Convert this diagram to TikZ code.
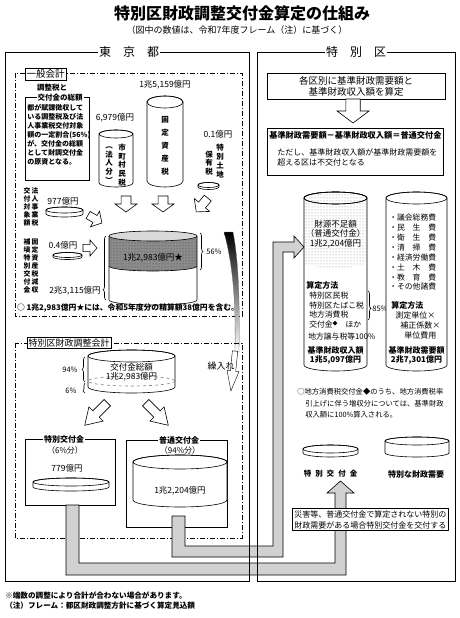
\documentclass[tikz,border=0pt]{standalone}
\usepackage{fontspec}
\setmainfont{Noto Sans CJK JP}
\usetikzlibrary{calc,patterns,decorations.pathreplacing}
\def\cyl[#1](#2,#3)(#4:#5:#6){\filldraw[#1] ({#2-#4},#3) -- ({#2-#4},{#3+#5}) arc (180:0:#4 and #6) -- ({#2+#4},#3) arc (360:180:#4 and #6) -- cycle; \draw (#2,#3) ellipse (#4 and #6);}
\def\openarrow[#1](#2)(#3:#4:#5){\draw[#1,shift={(#2)},rotate=#3] ({-0.45*#5},{-#4/2}) -- ({-0.45*#5},0) -- (-#5,0) -- (0,{#4/2}) -- (#5,0) -- ({0.45*#5},0) -- ({0.45*#5},{-#4/2}) -- cycle;}
\def\fsz#1{\fontsize{#1}{#1}\selectfont}
\tikzset{
	txt/.style={inner sep=0pt,font=\fontsize{8}{9.7}\selectfont},
	tagbox/.style={draw,fill=white,inner sep=1.5pt},
	lblgap/.style={fill=white,inner sep=1pt},
	pipe/.style={draw,fill=black!18},
	chainline/.style={dash pattern=on 5pt off 2pt on 1pt off 2pt},
}

\begin{document}
\begin{tikzpicture}[x=1pt,y=-1pt,line width=0.6pt]
		%%%%% START %%%%%
		\useasboundingbox (0,0) rectangle (460,618);
		
		\node[font=\bfseries\fsz{16}] (title) at (242,13) {特別区財政調整交付金算定の仕組み};
		\node[font=\fsz{9}] (sub) at (237,30) {（図中の数値は、令和7年度フレーム（注）に基づく）};
		
		% general account
		\draw[chainline] (15,73) rectangle (242,316);
		\node[tagbox,font=\fsz{9.5}] (ippan) at (45.5,74) {一般会計};
		
		\draw (25,97) rectangle (89,180);
		\node[txt,font=\bfseries\fsz{7.5}] (chosei) at (52,88) {調整税と};
		\node[lblgap,font=\bfseries\fsz{7.5}] (sogaku) at (60,98) {交付金の総額};
		\node[txt,font=\bfseries\fontsize{7}{9}\selectfont,anchor=north west,align=left] (gensi) at (27,104) {都が賦課徴収して\\いる調整税及び法\\人事業税交付対象\\額の一定割合(56\%)\\が、交付金の総額\\として財調交付金\\の原資となる。};
		
		\node[txt,font=\fsz{8.5}] (v15159) at (165,85) {1兆5,159億円};
		\cyl[fill=white](165,102)(18:79:6)
		\node[txt,align=center,font=\bfseries\fontsize{7.5}{13}\selectfont] (kotei) at (165,146) {固\\定\\資\\産\\税};
		
		\node[txt,font=\fsz{8.5}] (v6979) at (115,118) {6,979億円};
		\cyl[fill=white](116,134)(17:49:4)
		\node[txt,align=center,font=\bfseries\fontsize{7.5}{8.7}\selectfont] (shicho) at (122,165) {市\\町\\村\\民\\税};
		\node[txt,align=center,font=\bfseries\fontsize{7.5}{8.7}\selectfont] (hojin) at (109,165) {︵\\法\\人\\分\\︶};
		
		\node[txt,font=\fsz{8.5}] (v01) at (218,134) {0.1億円};
		\node[txt,align=center,font=\bfseries\fontsize{7.5}{9}\selectfont] (tokuchi) at (220,161) {特\\別\\土\\地};
		\node[txt,align=center,font=\bfseries\fontsize{7.5}{8.5}\selectfont] (hoyu) at (209,163) {保\\有\\税};
		\cyl[fill=white](208.5,185)(10.5:2:2.5)
		
		\node[txt,align=center,font=\bfseries\fontsize{6.8}{8}\selectfont] (hojinji) at (35,207) {法\\人\\事\\業\\税};
		\node[txt,align=center,font=\bfseries\fontsize{6.8}{8}\selectfont] (taisho) at (27,207) {交\\付\\対\\象\\額};
		\node[txt,font=\fsz{8.5}] (v977) at (63,201) {977億円};
		\cyl[fill=white](64.5,210)(18.5:4:3)
		
		\node[txt,align=center,font=\bfseries\fontsize{6.8}{8}\selectfont] (genshu) at (35,266) {固\\定\\資\\産\\税\\減\\収};
		\node[txt,align=center,font=\bfseries\fontsize{6.8}{8}\selectfont] (hoten) at (27,266) {補\\塡\\特\\別\\交\\付\\金};
		\node[txt,font=\fsz{8.5}] (v04) at (63,245) {0.4億円};
		\cyl[fill=white](67.5,255)(14.5:2:2.5)
		
		\openarrow[fill=white](126,204)(0:16:11)
		\openarrow[fill=white](163,204)(0:16:11)
		\openarrow[fill=white](202,205)(-40:18:10)
		\openarrow[fill=white](95,219)(60:16:9)
		\openarrow[fill=white](90,248)(90:14:8)
		
		\fill[white] (109,236) -- (109,300) arc (180:0:44 and 5) -- (197,236) arc (360:180:44 and 5) -- cycle;
		\fill[black!45] (109,236) -- (109,266) arc (180:0:44 and 5) -- (197,236) arc (360:180:44 and 5) -- cycle;
		\fill[pattern=dots,pattern color=black!75] (109,236) -- (109,266) arc (180:0:44 and 5) -- (197,236) arc (360:180:44 and 5) -- cycle;
		\draw (109,266) arc (180:0:44 and 5);
		\draw (109,236) -- (109,300) arc (180:0:44 and 5) -- (197,236);
		\draw[fill=black!15] (153,236) ellipse (44 and 5);
		\node[txt,font=\fsz{8.5}] (v12983) at (153,258) {1兆2,983億円★};
		\node[txt,font=\fsz{8.5}] (v23115) at (75,291) {2兆3,115億円};
		\draw[decorate,decoration={brace,amplitude=3pt,aspect=0.16}] (106,300) -- (106,236);
		\draw[decorate,decoration={brace,amplitude=3pt}] (200,233) -- (200,270);
		\node[txt,font=\fsz{7.5}] (p56) at (214,252) {56\%};
		
		\node[txt,font=\bfseries\fsz{7.8}] (seisan) at (128,308) {○ 1兆2,983億円★には、令和5年度分の精算額38億円を含む。};
		
		% transfer arrow
		\shadedraw[top color=black,bottom color=white,draw=black!60,line width=0.3pt] (224,232) .. controls (232,262) and (236,295) .. (235,352) -- (239,352) .. controls (240,295) and (238,258) .. (233,232) -- cycle;
		\openarrow[fill=white,line width=0.4pt](233,371)(-6:40:6)
		\node[txt,font=\fsz{9}] (kuri) at (221,366) {繰入れ};
		
		% adjustment account
		\draw[chainline] (15,343) rectangle (242,538);
		\node[tagbox,font=\fsz{9}] (tokkai) at (69,343) {特別区財政調整会計};
		\cyl[fill=white](131.5,356)(43.5:31:6)
		\draw[dashed,black!50] (131.5,381) ellipse (43.5 and 5);
		\node[txt,font=\fsz{8.5}] (kofusogaku) at (131.5,367) {交付金総額};
		\node[txt,font=\fsz{8.5}] (v12983b) at (131.5,377) {1兆2,983億円};
		\draw[decorate,decoration={brace,amplitude=3pt}] (85,382) -- (85,357);
		\draw[decorate,decoration={brace,amplitude=2pt,aspect=0.2}] (85,393) -- (85,383);
		\node[txt,font=\fsz{7.5}] (p94) at (70,370) {94\%};
		\node[txt,font=\fsz{7.5}] (p6) at (71,391) {6\%};
		
		\openarrow[fill=white](96,414)(-45:32:10)
		\openarrow[fill=white](157,414)(45:32:10)
		
		\draw (25,439) rectangle (115,505);
		\node[lblgap,font=\bfseries\fsz{8}] (tokkofu) at (64,439) {特別交付金};
		\node[txt,font=\fsz{8}] (p6bun) at (65,450) {（6\%分）};
		\node[txt,font=\fsz{8.5}] (v779) at (67,468) {779億円};
		\cyl[fill=white](71,482)(38:5:4)
		
		\draw (126,440) rectangle (227,527);
		\node[lblgap,font=\bfseries\fsz{8}] (futsu) at (179,440) {普通交付金};
		\node[txt,font=\fsz{8}] (p94bun) at (180,450) {（94\%分）};
		\cyl[fill=white](180,462)(47:38:7)
		\node[txt,font=\fsz{8.5}] (v12204) at (180,491) {1兆2,204億円};
		
		% special wards side
		\draw (267,73) rectangle (445,99);
		\node[txt,font=\fontsize{9.5}{11}\selectfont,align=center] (santei) at (356,86) {各区別に基準財政需要額と\\基準財政収入額を算定};
		\openarrow[fill=white](353,111)(0:24:16)
		
		\draw (267,128) rectangle (443,175);
		\node[txt,font=\bfseries\fsz{8.2},anchor=west] (shiki) at (269,135) {基準財政需要額－基準財政収入額＝普通交付金};
		\node[txt,font=\fontsize{8}{10}\selectfont,anchor=north west,align=left] (tadashi) at (277,148) {ただし、基準財政収入額が基準財政需要額を\\超える区は不交付となる};
		
		\cyl[fill=white](335.5,198)(31.5:167:6)
		\fill[pattern=dots,pattern color=black!45] (304,198) -- (304,262) arc (180:0:31.5 and 6) -- (367,198) arc (360:180:31.5 and 6) -- cycle;
		\draw (335.5,198) ellipse (31.5 and 6);
		\node[txt,font=\fontsize{8.5}{9.7}\selectfont,align=center] (fusoku) at (335.5,234) {財源不足額\\（普通交付金）\\1兆2,204億円};
		\node[txt,font=\bfseries\fsz{8},anchor=west] (hoho1) at (306,285) {算定方法};
		\node[txt,font=\fontsize{7.8}{9.7}\selectfont,anchor=west,align=left] (zeimoku) at (309,310) {特別区民税\\特別区たばこ税\\地方消費税\\交付金\raisebox{2pt}{\fsz{5}◆}　ほか};
		\node[txt,font=\fsz{7.8},anchor=west] (joyo) at (308,337) {地方譲与税等100\%};
		\draw[decorate,decoration={brace,amplitude=3pt,aspect=0.6}] (368,291) -- (368,320);
		\node[txt,font=\fsz{7.5}] (p85) at (380,309) {85\%};
		\node[txt,font=\bfseries\fontsize{8}{9.5}\selectfont,align=center] (shunyu) at (335.5,355.5) {基準財政収入額\\1兆5,097億円};
		
		\cyl[fill=white](416.5,198)(30.5:167:6)
		\node[txt,font=\fontsize{7.8}{9.85}\selectfont,anchor=west,align=left] (keihi) at (389,252.5) {・議会総務費\\・民　生　費\\・衛　生　費\\・清　掃　費\\・経済労働費\\・土　木　費\\・教　育　費\\・その他諸費};
		\node[txt,font=\bfseries\fsz{8},anchor=west] (hoho2) at (391,305) {算定方法};
		\node[txt,font=\fsz{8},anchor=west] (sokutei) at (395,315) {測定単位×};
		\node[txt,font=\fsz{8},anchor=west] (hosei) at (400,325) {補正係数×};
		\node[txt,font=\fsz{8},anchor=west] (tanka) at (404,335) {単位費用};
		\node[txt,font=\bfseries\fontsize{8}{9.5}\selectfont,align=center] (juyo) at (416.5,355.5) {基準財政需要額\\2兆7,301億円};
		
		\node[txt,font=\fontsize{7.3}{11.5}\selectfont,anchor=north west,align=left] (shohi) at (297,388) {○地方消費税交付金◆のうち、地方消費税率\\\hspace*{8pt}引上げに伴う増収分については、基準財政\\\hspace*{8pt}収入額に100\%算入される。};
		
		\cyl[fill=white](330.5,449)(27.5:4:4)
		\cyl[fill=white](417,441)(32:12:4)
		\node[txt,font=\bfseries\fsz{7.5}] (tokkofu2) at (330.5,474) {特\hspace{4pt}別\hspace{4pt}交\hspace{4pt}付\hspace{4pt}金};
		\node[txt,font=\bfseries\fsz{8}] (tokujuyo) at (416,474) {特別な財政需要};
		
		% pipes
		\draw[pipe] (66,505) -- (66,575) -- (346,575) -- (346,493) -- (354,493) -- (340.5,481) -- (327,493) -- (335,493) -- (335,563) -- (79,563) -- (79,505) -- cycle;
		\draw[pipe] (172,516) -- (172,557) -- (283,557) -- (283,252) -- (294,252) -- (294,258) -- (304,247) -- (294,236) -- (294,242) -- (273,242) -- (273,546) -- (185,546) -- (185,516) -- cycle;
		
		\draw[fill=white] (292,508) rectangle (448,530);
		\node[txt,font=\fontsize{8}{11}\selectfont,anchor=west,align=left] (saigai) at (294,519.5) {災害等、普通交付金で算定されない特別の\\財政需要がある場合特別交付金を交付する};
		
		% outer frames
		\draw (5,52) rectangle (249,581);
		\draw (257,52) rectangle (455,581);
		\node[lblgap,font=\fsz{12}] (tokyo) at (129,52) {東　京　都};
		\node[lblgap,font=\fsz{12}] (ku) at (356,52) {特　別　区};
		
		\node[txt,font=\bfseries\fsz{7.6},anchor=west] (hasu) at (5,596) {※端数の調整により合計が合わない場合があります。};
		\node[txt,font=\bfseries\fsz{7.6},anchor=west] (chu) at (5,606) {（注）フレーム：都区財政調整方針に基づく算定見込額};
		
		%%%%% END %%%%%
	\end{tikzpicture}
\end{document}
